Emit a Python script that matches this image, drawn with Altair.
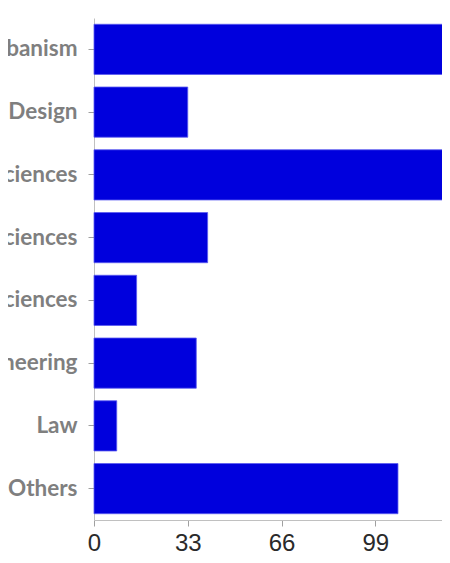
import altair as alt
import pandas as pd

categories = [
    "Architecture and Urbanism",
    "Design",
    "Applied Social Sciences",
    "Human Sciences",
    "Exact Sciences",
    "Engineering",
    "Law",
    "Others",
]
values = [123, 33, 136, 40, 15, 36, 8, 107]
x_ticks = [0, 33, 66, 99, 132]

df = pd.DataFrame({"area": categories, "count": values})

chart = (
    alt.Chart(df)
    .mark_bar(color="#0000DD", stroke="#5a5af0", strokeWidth=0.8)
    .encode(
        x=alt.X(
            "count:Q",
            scale=alt.Scale(domain=[0, 132], range=[0, 375], nice=False),
            axis=alt.Axis(
                values=x_ticks,
                title=None,
                grid=False,
                domainColor="#c0c0c0",
                tickColor="#a0a0a0",
                tickSize=6,
                labelFont="Liberation Sans",
                labelFontSize=24,
                labelColor="#2a2a2a",
                labelPadding=5,
                labelFlush=False,
            ),
        ),
        y=alt.Y(
            "area:N",
            sort=categories,
            scale=alt.Scale(paddingInner=0.2, paddingOuter=0.1),
            axis=alt.Axis(
                title=None,
                domainColor="#c0c0c0",
                tickColor="#a0a0a0",
                tickSize=6,
                labelFont="Lato",
                labelFontWeight="bold",
                labelFontSize=22.5,
                labelColor="#7f7f7f",
                labelPadding=11,
                labelLimit=0,
            ),
        ),
    )
    .properties(
        width=348,
        height=502,
        autosize=alt.AutoSizeParams(type="none"),
        padding={"left": 86, "top": 10, "right": 0, "bottom": 35},
    )
    .configure_view(stroke=None)
)

chart.save("out.html", embed_options={"renderer": "svg", "actions": False})
